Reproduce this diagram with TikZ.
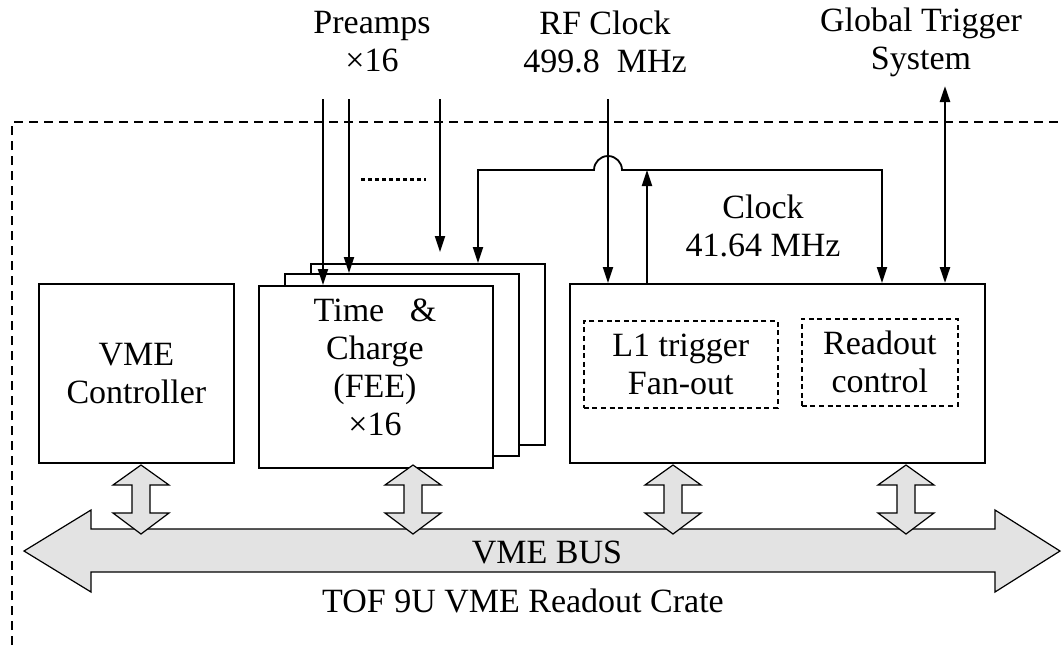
\documentclass[tikz,border=0pt]{standalone}
\usepackage{fontspec}
\setmainfont{Liberation Serif}
\usetikzlibrary{arrows.meta}
\begin{document}
\begin{tikzpicture}[x=0.5pt,y=-0.5pt,
  font=\fontsize{17}{19}\selectfont,
  box/.style={draw, line width=0.9pt, inner sep=0pt, align=center},
  subbox/.style={draw, line width=0.8pt, dash pattern=on 2.5pt off 1.8pt, inner sep=0pt, align=center},
  tip/.tip={Triangle[length=8pt,width=5pt]},
  sig/.style={line width=0.9pt, -tip},
  sigboth/.style={line width=0.9pt, tip-tip},
  lbl/.style={align=center, inner sep=0pt},
  busshape/.style={draw, fill=black!11, line width=0.6pt, line join=miter},
  crate/.style={line width=0.9pt, dash pattern=on 4.5pt off 3pt}]
\useasboundingbox (0,0) rectangle (1062,645);

% crate outline
\draw[crate] (12,645) -- (12,122) -- (1062,122);

% boxes
\node[box, anchor=north west, minimum width=97.5pt, minimum height=89.5pt] (vme) at (38,283) {VME\\Controller};
\node[box, fill=white, anchor=north west, minimum width=117pt, minimum height=90.5pt] (fee3) at (310,263) {};
\node[box, fill=white, anchor=north west, minimum width=117pt, minimum height=91pt] (fee2) at (284,273) {};
\node[box, fill=white, anchor=north west, minimum width=117pt, minimum height=91pt] (fee1) at (258,285) {};
\node[lbl] (feet) at (375,367) {Time~~~\&\\Charge\\(FEE)\\×16};
\node[box, anchor=north west, minimum width=207.5pt, minimum height=89.5pt] (rb) at (569,283) {};
\node[subbox, anchor=north west, minimum width=97pt, minimum height=43.5pt] (l1) at (583,320) {L1 trigger\\Fan-out};
\node[subbox, anchor=north west, minimum width=78pt, minimum height=43.5pt] (ro) at (801,318) {Readout\\control};

% top labels
\node[lbl] (pre) at (372,42) {Preamps\\×16};
\node[lbl] (rft) at (605,42) {RF Clock\\499.8~~MHz};
\node[lbl] (gtt) at (921,42) {Global Trigger\\System};
\node[lbl] (clk) at (763,226) {Clock\\41.64 MHz};

% preamp inputs
\coordinate (p1) at (323,99);
\coordinate (p2) at (349,99);
\coordinate (p3) at (440,99);
\coordinate (p3e) at (440,252);
\draw[sig] (p1) -- (p1 |- fee1.north);
\draw[sig] (p2) -- (p2 |- fee2.north);
\draw[sig] (p3) -- (p3e);
\coordinate (d1) at (361,179);
\coordinate (d2) at (426,179);
\draw[line width=1.5pt, dash pattern=on 2pt off 1.5pt] (d1) -- (d2);

% RF clock
\coordinate (rf) at (608,99);
\draw[sig] (rf) -- (rf |- rb.north);

% clock distribution
\coordinate (up) at (647,170);
\draw[sig] (rb.north -| up) -- (up);
\coordinate (cl) at (478,170);
\coordinate (cr) at (882,170);
\draw[sigboth] (cl |- fee3.north) -- (cl) -- (594,170) arc[start angle=180, end angle=0, radius=7pt] -- (cr) -- (cr |- rb.north);

% global trigger
\coordinate (gt) at (945,86);
\draw[sigboth, line width=1.2pt] (gt) -- (gt |- rb.north);

% VME bus
\draw[busshape] (24,551) -- (91,510) -- (91,529) -- (995,529) -- (995,510) -- (1060,551)
  -- (995,592) -- (995,572) -- (91,572) -- (91,592) -- cycle;
\foreach \c in {141,413,673,906}{
  \draw[busshape] (\c,465) -- ++(28,20) -- ++(-19,0) -- ++(0,28) -- ++(19,0) -- ++(-28,21)
    -- ++(-28,-21) -- ++(19,0) -- ++(0,-28) -- ++(-19,0) -- cycle;
}
\node[lbl, anchor=base] (bust) at (547,563) {VME BUS};
\node[lbl, anchor=base] (cratet) at (523,612) {TOF 9U VME Readout Crate};
\end{tikzpicture}
\end{document}
